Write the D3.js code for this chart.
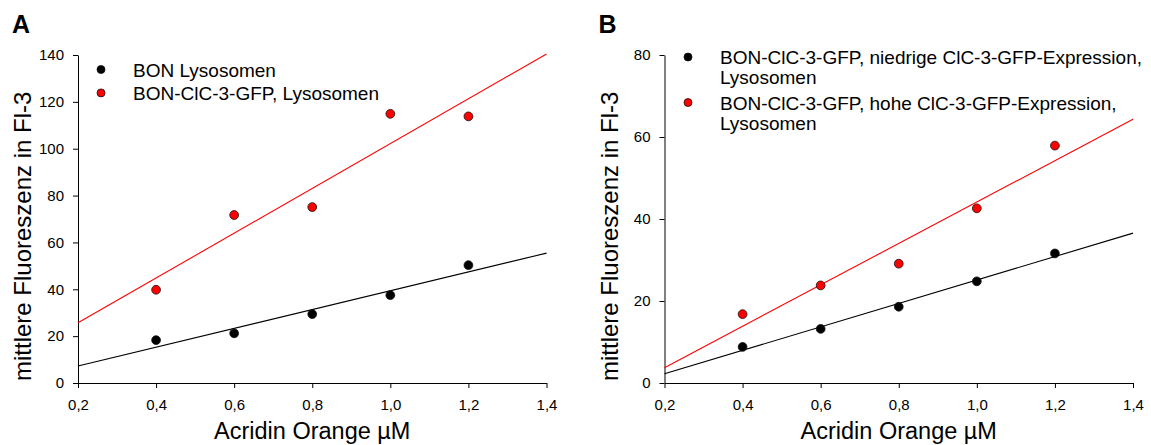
<!DOCTYPE html>
<html>
<head>
<meta charset="utf-8">
<script src="https://cdn.jsdelivr.net/npm/d3@7"></script>
<style>
	body { margin: 0; background: #fff; }
	svg text { font-family: "Liberation Sans", Arial, sans-serif; fill: #000; }
	.axis path, .axis line { stroke: #000; stroke-width: 1; }
	.axis text { font-size: 15px; }
</style>
</head>
<body>
<div id="chart"></div>
<script>
// Data
var concentrations = [0.4, 0.6, 0.8, 1.0, 1.2];
var xTicks = [0.2, 0.4, 0.6, 0.8, 1.0, 1.2, 1.4];

var bonLyso = [18.3, 21.2, 29.4, 37.5, 50.3];
var bonClcLyso = [39.8, 71.7, 75.1, 114.9, 113.8];
var yTicksA = [0, 20, 40, 60, 80, 100, 120, 140];

var lowExprLyso = [8.8, 13.2, 18.6, 24.8, 31.6];
var highExprLyso = [16.8, 23.8, 29.1, 42.6, 57.9];
var yTicksB = [0, 20, 40, 60, 80];

var xTitle = "Acridin Orange µM";
var yTitle = "mittlere Fluoreszenz in Fl-3";

var svg = d3.select("#chart")
	.append('svg')
	.attr("width", 1151)
	.attr("height", 445);

/**
One panel: axes, least squares lines, dots and legend
*/
var Panel = function(config){
	this.letter = "";
	this.left = 0;
	this.right = 0;
	this.top = 55;
	this.bottom = 383;
	this.yMax = 100;
	this.yTicks = [];
	this.series = [];
	this.legend = {x: 0, y: 0};

	Object.keys(config).forEach(key => this[key] = config[key]);

	this.g = svg.append('g');
	this.setupScales();
	this.setupAxes();
	this.plot();
	this.drawLegend();
}

Panel.prototype.setupScales = function(){
	this.x = d3.scaleLinear()
		.domain([0.2, 1.4])
		.range([this.left, this.right]);
	this.y = d3.scaleLinear()
		.domain([0, this.yMax])
		.range([this.bottom, this.top]);
}

Panel.prototype.setupAxes = function(){
	let fmt = d => d3.format(".1f")(d).replace(".", ",");

	this.g.append('g')
		.attr('class', 'axis')
		.attr('transform', `translate(0, ${this.bottom})`)
		.call(d3.axisBottom(this.x).tickValues(xTicks).tickFormat(fmt)
			.tickSize(5).tickSizeOuter(0).tickPadding(11));

	this.g.append('g')
		.attr('class', 'axis')
		.attr('transform', `translate(${this.left}, 0)`)
		.call(d3.axisLeft(this.y).tickValues(this.yTicks)
			.tickSize(5).tickSizeOuter(0).tickPadding(9));

	this.g.selectAll('.axis').attr('font-family', null).attr('font-size', null);

	// titles
	this.g.append('text')
		.attr('x', (this.left + this.right) / 2)
		.attr('y', 439)
		.attr('text-anchor', 'middle')
		.style('font-size', '23.5px')
		.text(xTitle);

	this.g.append('text')
		.attr('transform', `translate(${this.left - 47}, 381) rotate(-90)`)
		.style('font-size', '24px')
		.text(yTitle);

	this.g.append('text')
		.attr('x', this.left - 66)
		.attr('y', 33)
		.style('font-size', '25px')
		.style('font-weight', 'bold')
		.text(this.letter);
}

Panel.prototype.plot = function(){
	let x0 = 0.2, x1 = 1.4;

	this.series.forEach(s => {
		// linear regression through the points
		let mx = d3.mean(concentrations), my = d3.mean(s.values);
		let sxy = d3.sum(concentrations, (c, i) => (c - mx) * (s.values[i] - my));
		let sxx = d3.sum(concentrations, c => (c - mx) * (c - mx));
		let slope = sxy / sxx;
		let fit = c => my + slope * (c - mx);

		this.g.append('line')
			.attr('x1', this.x(x0))
			.attr('y1', this.y(fit(x0)))
			.attr('x2', this.x(x1))
			.attr('y2', this.y(fit(x1)))
			.attr('stroke', s.color)
			.attr('stroke-width', 1.1);
	});

	this.series.forEach(s => {
		this.g.selectAll(null)
			.data(s.values)
			.enter()
			.append('circle')
			.attr('cx', (d, i) => this.x(concentrations[i]))
			.attr('cy', d => this.y(d))
			.attr('r', 4.4)
			.attr('fill', s.color)
			.attr('stroke', '#111')
			.attr('stroke-width', 0.8);
	});
}

Panel.prototype.drawLegend = function(){
	let lg = this.legend;
	let rowY = lg.y;

	this.series.forEach(s => {
		this.g.append('circle')
			.attr('cx', lg.x)
			.attr('cy', rowY)
			.attr('r', 4)
			.attr('fill', s.color)
			.attr('stroke', '#111')
			.attr('stroke-width', 0.8);

		let t = this.g.append('text')
			.attr('x', lg.x + 32)
			.attr('y', rowY + 7)
			.style('font-size', '19px');
		s.label.forEach((line, i) => {
			t.append('tspan')
				.attr('x', lg.x + 32)
				.attr('dy', i == 0 ? 0 : 20)
				.text(line);
		});

		rowY += lg.step;
	});
}

new Panel({
	letter: "A",
	left: 78,
	right: 546.5,
	yMax: 140,
	yTicks: yTicksA,
	legend: {x: 101, y: 69.5, step: 23.4},
	series: [
		{values: bonLyso, color: "#000000", label: ["BON Lysosomen"]},
		{values: bonClcLyso, color: "#ff0000", label: ["BON-ClC-3-GFP, Lysosomen"]}
	]
});

new Panel({
	letter: "B",
	left: 664.5,
	right: 1133,
	yMax: 80,
	yTicks: yTicksB,
	legend: {x: 688, y: 57, step: 45.5},
	series: [
		{values: lowExprLyso, color: "#000000", label: ["BON-ClC-3-GFP, niedrige ClC-3-GFP-Expression,", "Lysosomen"]},
		{values: highExprLyso, color: "#ff0000", label: ["BON-ClC-3-GFP, hohe ClC-3-GFP-Expression,", "Lysosomen"]}
	]
});
</script>
</body>
</html>
